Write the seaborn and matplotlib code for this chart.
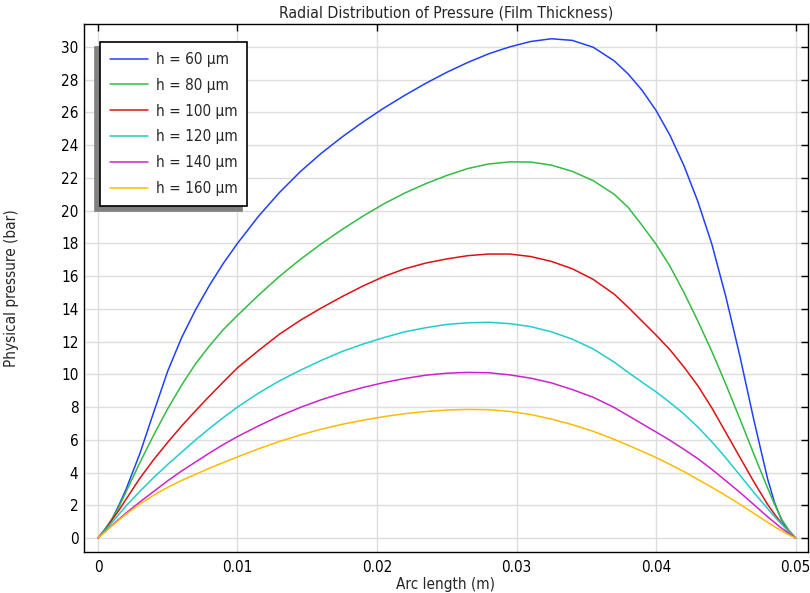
import numpy as np
import pandas as pd
import matplotlib
matplotlib.use("Agg")
import matplotlib.pyplot as plt
import seaborn as sns

# arc length (m)
arc = [0, 0.0005, 0.001, 0.0015, 0.002, 0.003, 0.004, 0.005, 0.006, 0.007,
       0.008, 0.009, 0.01, 0.0115, 0.013, 0.0145, 0.016, 0.0175, 0.019, 0.0205,
       0.022, 0.0235, 0.025, 0.0265, 0.028, 0.0295, 0.031, 0.0325, 0.034, 0.0355,
       0.037, 0.038, 0.039, 0.04, 0.041, 0.042, 0.043, 0.044, 0.045, 0.046,
       0.047, 0.048, 0.0485, 0.049, 0.0495, 0.05]

# pressure (bar) for each film thickness
p60 = [0, 0.5, 1.15, 2.0, 2.95, 5.15, 7.7, 10.2, 12.25, 13.95,
       15.45, 16.8, 18.0, 19.65, 21.1, 22.38, 23.5, 24.5, 25.42, 26.27,
       27.05, 27.78, 28.45, 29.05, 29.58, 30.0, 30.33, 30.5, 30.4, 29.98,
       29.15, 28.35, 27.35, 26.12, 24.6, 22.75, 20.55, 17.95, 14.75, 11.15,
       7.25, 3.6, 2.15, 1.1, 0.45, 0]
p80 = [0, 0.55, 1.15, 1.9, 2.8, 4.6, 6.3, 7.9, 9.35, 10.65,
       11.75, 12.75, 13.6, 14.83, 15.98, 17.02, 17.97, 18.85, 19.67, 20.42,
       21.08, 21.65, 22.15, 22.57, 22.85, 22.98, 22.97, 22.78, 22.4, 21.83,
       21.0, 20.2, 19.1, 17.95, 16.6, 15.0, 13.25, 11.4, 9.4, 7.3,
       5.15, 3.05, 2.05, 1.15, 0.5, 0]
p100 = [0, 0.5, 1.1, 1.7, 2.35, 3.65, 4.8, 5.85, 6.85, 7.78,
        8.68, 9.55, 10.4, 11.45, 12.45, 13.3, 14.05, 14.75, 15.4, 15.98,
        16.45, 16.8, 17.05, 17.25, 17.35, 17.35, 17.2, 16.9, 16.45, 15.8,
        14.9, 14.1, 13.25, 12.4, 11.5, 10.45, 9.3, 7.95, 6.45, 4.95,
        3.45, 2.05, 1.45, 0.9, 0.4, 0]
p120 = [0, 0.45, 0.95, 1.45, 1.95, 2.85, 3.7, 4.5, 5.25, 6.0,
        6.7, 7.37, 8.0, 8.85, 9.6, 10.25, 10.85, 11.4, 11.85, 12.25,
        12.6, 12.85, 13.05, 13.15, 13.18, 13.1, 12.92, 12.6, 12.15, 11.55,
        10.75, 10.12, 9.52, 8.93, 8.28, 7.58, 6.78, 5.88, 4.9, 3.85,
        2.8, 1.8, 1.3, 0.85, 0.4, 0]
p140 = [0, 0.39, 0.78, 1.15, 1.52, 2.2, 2.85, 3.5, 4.1, 4.65,
        5.2, 5.72, 6.2, 6.85, 7.45, 7.98, 8.45, 8.85, 9.2, 9.5,
        9.75, 9.95, 10.07, 10.12, 10.1, 9.97, 9.77, 9.48, 9.07, 8.6,
        7.98, 7.48, 6.98, 6.48, 5.97, 5.42, 4.85, 4.2, 3.5, 2.8,
        2.05, 1.3, 0.95, 0.6, 0.3, 0]
p160 = [0, 0.37, 0.75, 1.1, 1.45, 2.08, 2.62, 3.1, 3.52, 3.9,
        4.27, 4.62, 4.96, 5.45, 5.9, 6.3, 6.65, 6.95, 7.2, 7.42,
        7.6, 7.73, 7.82, 7.86, 7.84, 7.74, 7.55, 7.27, 6.93, 6.52,
        6.03, 5.67, 5.3, 4.92, 4.5, 4.06, 3.58, 3.1, 2.6, 2.07,
        1.52, 0.96, 0.69, 0.44, 0.21, 0]

labels = ["h = 60 \u00b5m", "h = 80 \u00b5m", "h = 100 \u00b5m",
          "h = 120 \u00b5m", "h = 140 \u00b5m", "h = 160 \u00b5m"]
colors = ["#1f40ff", "#33bb44", "#dd1111", "#22cccc", "#cc22cc", "#ffbb00"]
series = [p60, p80, p100, p120, p140, p160]

rows = []
for lab, vals in zip(labels, series):
    for x, y in zip(arc, vals):
        rows.append({"arc": x, "p": y, "h": lab})
df = pd.DataFrame(rows)

sns.set_theme(style="whitegrid")
plt.rcParams["font.family"] = ["DejaVu Sans"]
plt.rcParams["font.stretch"] = "condensed"

fig = plt.figure(figsize=(8.1, 5.93), dpi=100)
ax = fig.add_axes([0.1037, 0.069, 0.8933, 0.8905])

sns.lineplot(data=df, x="arc", y="p", hue="h", hue_order=labels,
             palette=colors, estimator=None, sort=False, linewidth=1.1,
             ax=ax, legend=False)

ax.set_xlim(-0.001, 0.05086)
ax.set_ylim(-0.855, 31.4)
ax.set_xticks([0, 0.01, 0.02, 0.03, 0.04, 0.05])
ax.set_xticklabels(["0", "0.01", "0.02", "0.03", "0.04", "0.05"])
ax.set_yticks(range(0, 31, 2))

ax.grid(True, color="#dddddd", linewidth=1)
for s in ax.spines.values():
    s.set_color("black")
    s.set_linewidth(1.0)
ax.tick_params(direction="in", length=5, width=1, colors="black",
               top=True, right=True, labelsize=11, pad=6)
ax.tick_params(axis="y", pad=4)

ax.set_title("Radial Distribution of Pressure (Film Thickness)", fontsize=11.3, pad=5)
ax.set_xlabel("Arc length (m)", fontsize=11, labelpad=1)
ax.set_ylabel("Physical pressure (bar)", fontsize=11)
ax.yaxis.set_label_coords(-0.09, 0.5)

handles = ax.get_lines()[:6]
leg = ax.legend(handles, labels, loc="upper left", bbox_to_anchor=(0.022, 0.966),
                borderaxespad=0, fontsize=11, frameon=True, fancybox=False,
                framealpha=1, edgecolor="black", handlelength=2.5,
                handletextpad=0.5, labelspacing=0.71, borderpad=0.65,
                shadow={"ox": -3.5, "oy": -3.5, "color": "0.5", "alpha": 1})
leg.get_frame().set_linewidth(1.2)

fig.savefig("out.png", dpi=100)
